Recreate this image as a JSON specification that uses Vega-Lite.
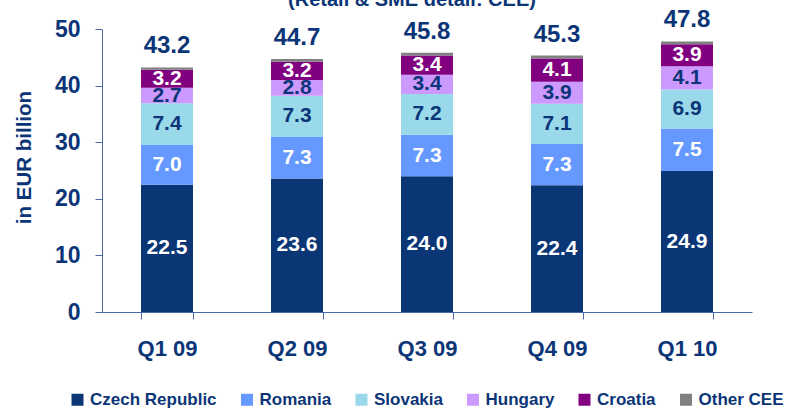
{
  "$schema": "https://vega.github.io/schema/vega-lite/v6.json",
  "width": 650,
  "height": 283,
  "autosize": {"type": "none"},
  "padding": {"left": 102, "top": 29, "right": 33, "bottom": 97},
  "background": "white",
  "config": {"view": {"stroke": null}, "font": "Liberation Sans"},
  "title": {
    "text": "(Retail & SME detail: CEE)",
    "fontSize": 20,
    "font": "Liberation Sans",
    "fontWeight": "bold",
    "color": "#0b3577",
    "frame": "group",
    "offset": 0,
    "baseline": "alphabetic",
    "dx": -15,
    "dy": 18
  },
  "datasets": {
    "segments": [
      {"quarter": "Q1 09", "region": "Czech Republic", "rank": 1, "value": 22.5},
      {"quarter": "Q1 09", "region": "Romania", "rank": 2, "value": 7.0},
      {"quarter": "Q1 09", "region": "Slovakia", "rank": 3, "value": 7.4},
      {"quarter": "Q1 09", "region": "Hungary", "rank": 4, "value": 2.7},
      {"quarter": "Q1 09", "region": "Croatia", "rank": 5, "value": 3.2},
      {"quarter": "Q1 09", "region": "Other CEE", "rank": 6, "value": 0.4},
      {"quarter": "Q2 09", "region": "Czech Republic", "rank": 1, "value": 23.6},
      {"quarter": "Q2 09", "region": "Romania", "rank": 2, "value": 7.3},
      {"quarter": "Q2 09", "region": "Slovakia", "rank": 3, "value": 7.3},
      {"quarter": "Q2 09", "region": "Hungary", "rank": 4, "value": 2.8},
      {"quarter": "Q2 09", "region": "Croatia", "rank": 5, "value": 3.2},
      {"quarter": "Q2 09", "region": "Other CEE", "rank": 6, "value": 0.5},
      {"quarter": "Q3 09", "region": "Czech Republic", "rank": 1, "value": 24.0},
      {"quarter": "Q3 09", "region": "Romania", "rank": 2, "value": 7.3},
      {"quarter": "Q3 09", "region": "Slovakia", "rank": 3, "value": 7.2},
      {"quarter": "Q3 09", "region": "Hungary", "rank": 4, "value": 3.4},
      {"quarter": "Q3 09", "region": "Croatia", "rank": 5, "value": 3.4},
      {"quarter": "Q3 09", "region": "Other CEE", "rank": 6, "value": 0.5},
      {"quarter": "Q4 09", "region": "Czech Republic", "rank": 1, "value": 22.4},
      {"quarter": "Q4 09", "region": "Romania", "rank": 2, "value": 7.3},
      {"quarter": "Q4 09", "region": "Slovakia", "rank": 3, "value": 7.1},
      {"quarter": "Q4 09", "region": "Hungary", "rank": 4, "value": 3.9},
      {"quarter": "Q4 09", "region": "Croatia", "rank": 5, "value": 4.1},
      {"quarter": "Q4 09", "region": "Other CEE", "rank": 6, "value": 0.5},
      {"quarter": "Q1 10", "region": "Czech Republic", "rank": 1, "value": 24.9},
      {"quarter": "Q1 10", "region": "Romania", "rank": 2, "value": 7.5},
      {"quarter": "Q1 10", "region": "Slovakia", "rank": 3, "value": 6.9},
      {"quarter": "Q1 10", "region": "Hungary", "rank": 4, "value": 4.1},
      {"quarter": "Q1 10", "region": "Croatia", "rank": 5, "value": 3.9},
      {"quarter": "Q1 10", "region": "Other CEE", "rank": 6, "value": 0.5}
    ],
    "totals": [
      {"quarter": "Q1 09", "total": 43.2},
      {"quarter": "Q2 09", "total": 44.7},
      {"quarter": "Q3 09", "total": 45.8},
      {"quarter": "Q4 09", "total": 45.3},
      {"quarter": "Q1 10", "total": 47.8}
    ]
  },
  "encoding": {
    "x": {
      "field": "quarter",
      "type": "nominal",
      "sort": ["Q1 09", "Q2 09", "Q3 09", "Q4 09", "Q1 10"],
      "scale": {"paddingInner": 0.6, "paddingOuter": 0.3},
      "axis": {
        "title": null,
        "labelAngle": 0,
        "labelFontSize": 22,
        "labelFont": "Liberation Sans",
        "labelFontWeight": "bold",
        "labelColor": "#0b3577",
        "domainColor": "#4a6aa5",
        "tickColor": "#4a6aa5",
        "tickSize": 7,
        "tickBand": "extent",
        "labelPadding": 19
      }
    }
  },
  "layer": [
    {
      "data": {"name": "segments"},
      "transform": [
        {"stack": "value", "groupby": ["quarter"], "sort": [{"field": "rank", "order": "ascending"}], "as": ["v0", "v1"]}
      ],
      "mark": {"type": "bar"},
      "encoding": {
        "y": {
          "field": "v0",
          "type": "quantitative",
          "scale": {"domain": [0, 50], "nice": false},
          "axis": {
            "title": "in EUR billion",
            "values": [0, 10, 20, 30, 40, 50],
            "grid": false,
            "labelFontSize": 23,
            "labelFont": "Liberation Sans",
            "labelFontWeight": "bold",
            "labelColor": "#0b3577",
            "labelPadding": 15,
            "domainColor": "#4a6aa5",
            "tickColor": "#4a6aa5",
            "tickSize": 7,
            "titleFontSize": 20.5,
            "titleFont": "Liberation Sans",
            "titleFontWeight": "bold",
            "titleColor": "#0b3577",
            "titleAngle": 270,
            "titleX": -78,
            "titleY": 128,
            "titleAlign": "center",
            "titleBaseline": "middle"
          }
        },
        "y2": {"field": "v1"},
        "color": {
          "field": "region",
          "type": "nominal",
          "scale": {
            "domain": ["Czech Republic", "Romania", "Slovakia", "Hungary", "Croatia", "Other CEE"],
            "range": ["#0b3676", "#6699ff", "#99d9ea", "#cc99ff", "#800080", "#808080"]
          },
          "legend": {
            "orient": "none",
            "legendX": -33,
            "legendY": 362,
            "direction": "horizontal",
            "title": null,
            "symbolType": "square",
            "symbolSize": 144,
            "symbolStrokeWidth": 0,
            "labelFontSize": 17,
            "labelFont": "Liberation Sans",
            "labelFontWeight": "bold",
            "labelColor": "#0b3577",
            "columnPadding": 21.5,
            "labelOffset": 4
          }
        }
      }
    },
    {
      "data": {"name": "segments"},
      "transform": [
        {"stack": "value", "groupby": ["quarter"], "sort": [{"field": "rank", "order": "ascending"}], "as": ["v0", "v1"]},
        {"filter": "datum.region !== 'Other CEE'"},
        {"calculate": "(datum.v0 + datum.v1) / 2", "as": "mid"}
      ],
      "mark": {"type": "text", "fontSize": 21, "font": "Liberation Sans", "fontWeight": "bold", "baseline": "middle", "align": "center"},
      "encoding": {
        "y": {"field": "mid", "type": "quantitative"},
        "text": {"field": "value", "type": "quantitative", "format": ".1f"},
        "color": {
          "condition": {"test": "indexof(['Czech Republic','Romania','Croatia'], datum.region) >= 0", "value": "white"},
          "value": "#0b3577"
        }
      }
    },
    {
      "data": {"name": "totals"},
      "mark": {"type": "text", "fontSize": 24, "font": "Liberation Sans", "fontWeight": "bold", "baseline": "alphabetic", "align": "center", "dy": -14, "color": "#0b3577"},
      "encoding": {
        "y": {"field": "total", "type": "quantitative"},
        "text": {"field": "total", "type": "quantitative", "format": ".1f"}
      }
    }
  ]
}
